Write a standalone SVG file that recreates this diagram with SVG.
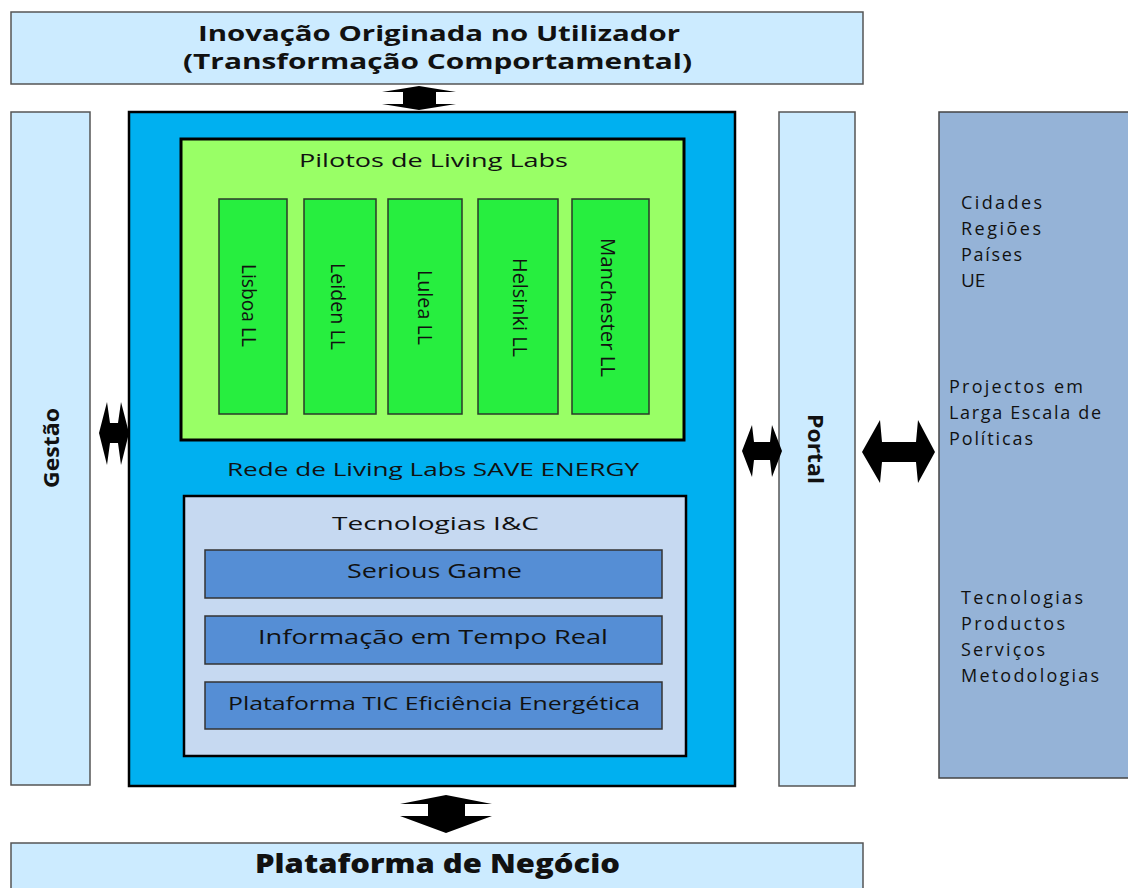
<svg xmlns="http://www.w3.org/2000/svg" width="1128" height="888" viewBox="0 0 1128 888">
<style>
.t{font-family:"Open Sans","Liberation Sans",sans-serif;fill:#111}
.b{font-weight:bold}
.panel{fill:#CCEBFF;stroke:#555;stroke-width:1.5}
.city{fill:#27EE3F;stroke:#2a3a2a;stroke-width:1.5}
.tec{fill:#558ED5;stroke:#333;stroke-width:1.5}
.arr{fill:#000}
</style>
<rect width="1128" height="888" fill="#fff"/>
<g id="top">
<rect class="panel" x="11" y="12" width="852" height="72"/>
<text class="t b" x="198" y="41" font-size="22" textLength="482" lengthAdjust="spacingAndGlyphs">Inovação Originada no Utilizador</text>
<text class="t b" x="183" y="69" font-size="22" textLength="509" lengthAdjust="spacingAndGlyphs">(Transformação Comportamental)</text>
</g>
<g id="gestao">
<rect class="panel" x="11" y="112" width="79" height="673"/>
<text class="t b" x="-40" y="0" font-size="21" dominant-baseline="central" textLength="80" lengthAdjust="spacingAndGlyphs" transform="translate(51,448) rotate(-90)">Gestão</text>
</g>
<g id="rede">
<rect x="129" y="112" width="606" height="674" fill="#00B0F0" stroke="#000" stroke-width="2.5"/>
<text class="t" x="227" y="476" font-size="19" textLength="412" lengthAdjust="spacingAndGlyphs">Rede de Living Labs SAVE ENERGY</text>
</g>
<g id="pilotos">
<rect x="181" y="139" width="503" height="301" fill="#99FF66" stroke="#000" stroke-width="3"/>
<text class="t" x="299" y="167" font-size="19" textLength="269" lengthAdjust="spacingAndGlyphs">Pilotos de Living Labs</text>
</g>
<g id="lisboa">
<rect class="city" x="219" y="199" width="68" height="215"/>
<text class="t" x="-42" y="0" font-size="20.5" dominant-baseline="central" textLength="83" lengthAdjust="spacingAndGlyphs" transform="translate(250,306) rotate(90)">Lisboa LL</text>
</g>
<g id="leiden">
<rect class="city" x="304" y="199" width="72" height="215"/>
<text class="t" x="-44" y="0" font-size="20.5" dominant-baseline="central" textLength="87" lengthAdjust="spacingAndGlyphs" transform="translate(339,307) rotate(90)">Leiden LL</text>
</g>
<g id="lulea">
<rect class="city" x="388" y="199" width="74" height="215"/>
<text class="t" x="-37" y="0" font-size="20.5" dominant-baseline="central" textLength="75" lengthAdjust="spacingAndGlyphs" transform="translate(426,307) rotate(90)">Lulea LL</text>
</g>
<g id="helsinki">
<rect class="city" x="478" y="199" width="80" height="215"/>
<text class="t" x="-49" y="0" font-size="20.5" dominant-baseline="central" textLength="99" lengthAdjust="spacingAndGlyphs" transform="translate(521,307) rotate(90)">Helsinki LL</text>
</g>
<g id="manchester">
<rect class="city" x="572" y="199" width="77" height="215"/>
<text class="t" x="-69" y="0" font-size="20.5" dominant-baseline="central" textLength="139" lengthAdjust="spacingAndGlyphs" transform="translate(609,307) rotate(90)">Manchester LL</text>
</g>
<g id="tecnologias">
<rect x="184" y="496" width="502" height="260" fill="#C6D9F1" stroke="#000" stroke-width="2.5"/>
<text class="t" x="332" y="530" font-size="19" textLength="207" lengthAdjust="spacingAndGlyphs">Tecnologias I&amp;C</text>
</g>
<g id="serious">
<rect class="tec" x="205" y="550" width="457" height="48"/>
<text class="t" x="347" y="578" font-size="20" textLength="175" lengthAdjust="spacingAndGlyphs">Serious Game</text>
</g>
<g id="informacao">
<rect class="tec" x="205" y="616" width="457" height="48"/>
<text class="t" x="258" y="644" font-size="20" textLength="350" lengthAdjust="spacingAndGlyphs">Informação em Tempo Real</text>
</g>
<g id="plataforma-tic">
<rect class="tec" x="205" y="682" width="457" height="47"/>
<text class="t" x="228" y="710" font-size="19" textLength="412" lengthAdjust="spacingAndGlyphs">Plataforma TIC Eficiência Energética</text>
</g>
<g id="portal">
<rect class="panel" x="779" y="112" width="76" height="674"/>
<text class="t b" x="-35" y="0" font-size="21" dominant-baseline="central" textLength="70" lengthAdjust="spacingAndGlyphs" transform="translate(816,449) rotate(90)">Portal</text>
</g>
<g id="politicas">
<rect x="939" y="112" width="195" height="666" fill="#95B3D7" stroke="#444" stroke-width="1.5"/>
<g class="t" font-size="18" lengthAdjust="spacingAndGlyphs">
<text x="961" y="209" textLength="81">Cidades</text>
<text x="961" y="235" textLength="80">Regiões</text>
<text x="961" y="261" textLength="61">Países</text>
<text x="961" y="287" font-size="19">UE</text>
<text x="949" y="393" textLength="134">Projectos em</text>
<text x="949" y="419" textLength="152">Larga Escala de</text>
<text x="949" y="445" textLength="84">Políticas</text>
<text x="961" y="604" textLength="122">Tecnologias</text>
<text x="961" y="630" textLength="104">Productos</text>
<text x="961" y="656" textLength="84">Serviços</text>
<text x="961" y="682" textLength="138">Metodologias</text>
</g>
</g>
<g id="negocio">
<rect class="panel" x="11" y="843" width="852" height="50"/>
<text class="t" x="255" y="873" font-size="26" font-weight="800" textLength="365" lengthAdjust="spacingAndGlyphs">Plataforma de Negócio</text>
</g>
<g id="connectors">
<polygon class="arr" points="419,86 456,92 436,92 436,104 456,104 419,110 382,104 403,104 403,92 382,92"/>
<polygon class="arr" points="446,795 492,804 465,804 465,816 492,816 446,833 400,816 428,816 428,804 400,804"/>
<polygon class="arr" points="99,433 107,402 110,423 118,423 121,402 129,433 121,465 118,443 110,443 107,465"/>
<polygon class="arr" points="742,451 752,425 754,442 770,442 772,425 782,451 772,477 770,460 754,460 752,477"/>
<polygon class="arr" points="862,452 880,420 882,442 916,442 918,420 935,452 918,483 916,462 882,462 880,483"/>
</g>
</svg>
